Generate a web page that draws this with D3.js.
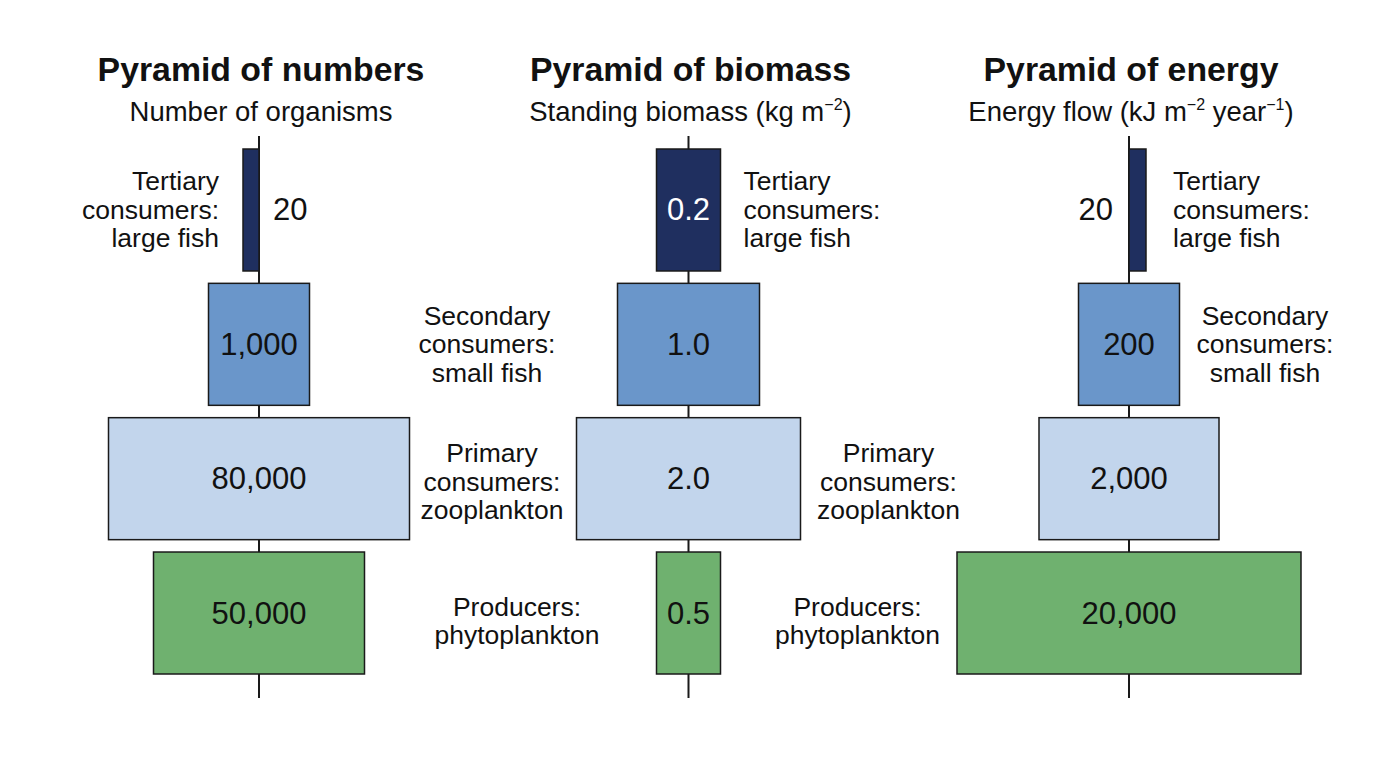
<!DOCTYPE html>
<html><head><meta charset="utf-8">
<script src="https://cdn.jsdelivr.net/npm/d3@7/dist/d3.min.js"></script>
<style>
body{margin:0;background:#fff}
svg{display:block}
text{font-family:"Liberation Sans",Arial,Helvetica,sans-serif;fill:#111}
</style>
</head><body>
<svg id="chart" width="1376" height="768"></svg>
<script>
// ---------- data ----------
const levels = ["Tertiary", "Secondary", "Primary", "Producers"];
const levelLabels = [
  ["Tertiary", "consumers:", "large fish"],
  ["Secondary", "consumers:", "small fish"],
  ["Primary", "consumers:", "zooplankton"],
  ["Producers:", "phytoplankton"]
];
const panelTitles = ["Pyramid of numbers", "Pyramid of biomass", "Pyramid of energy"];
// subtitle segments: [text, isSuperscript]
const panelUnits = [
  [["Number of organisms", false]],
  [["Standing biomass (kg m", false], ["\u22122", true], [")", false]],
  [["Energy flow (kJ m", false], ["\u22122", true], [" year", false], ["\u22121", true], [")", false]]
];
const numbersValues = [20, 1000, 80000, 50000];
const biomassValues = [0.2, 1.0, 2.0, 0.5];
const energyValues = [20, 200, 2000, 20000];

// ---------- layout / style ----------
const W = 1376, H = 768;
const colors = ["#1f2f5f", "#6a96ca", "#c2d5ec", "#6fb16f"];
const panels = [
  { values: numbersValues, fmt: d3.format(","), cx: 259,
    wDomain: [20, 1000, 50000, 80000], wRange: [16, 101, 211, 301],
    align: ["end", "center", "center", "center"],
    valuePos: ["right", "in", "in", "in"],
    labels: [ {lvl:0, dx:-40, anchor:"end"}, {lvl:1, dx:228, anchor:"middle"},
              {lvl:2, dx:233, anchor:"middle"}, {lvl:3, dx:258, anchor:"middle"} ] },
  { values: biomassValues, fmt: d3.format(".1f"), cx: 688.5,
    wDomain: [0.2, 0.5, 1.0, 2.0], wRange: [64, 64, 142, 224],
    align: ["center", "center", "center", "center"],
    valuePos: ["in", "in", "in", "in"],
    labels: [ {lvl:0, dx:55, anchor:"start"}, {lvl:2, dx:200, anchor:"middle"},
              {lvl:3, dx:169, anchor:"middle"} ] },
  { values: energyValues, fmt: d3.format(","), cx: 1129,
    wDomain: [20, 200, 2000, 20000], wRange: [17, 101, 180, 344],
    align: ["start", "center", "center", "center"],
    valuePos: ["left", "in", "in", "in"],
    labels: [ {lvl:0, dx:44, anchor:"start"}, {lvl:1, dx:136, anchor:"middle"} ] }
];
const labelDy = [0, 0, 3, 8];

const svg = d3.select("#chart");
svg.append("rect").attr("width", W).attr("height", H).attr("fill", "#fff");

const y = d3.scaleBand().domain(levels).range([149, 674]).paddingInner(0.092).paddingOuter(0);
const lineH = 28.5;

panels.forEach((p, pi) => {
  const g = svg.append("g");
  const wScale = d3.scaleLinear().domain(p.wDomain).range(p.wRange);

  // title
  g.append("text").attr("x", p.cx + 2).attr("y", 81).attr("text-anchor", "middle")
    .attr("font-size", 33.8).attr("font-weight", "bold").text(panelTitles[pi]);
  // subtitle
  const st = g.append("text").attr("x", p.cx + 2).attr("y", 121).attr("text-anchor", "middle")
    .attr("font-size", 27.5);
  let prevSup = false;
  panelUnits[pi].forEach(([t, sup]) => {
    const ts = st.append("tspan").text(t);
    if (sup && !prevSup) ts.attr("dy", -11);
    else if (!sup && prevSup) ts.attr("dy", 11);
    if (sup) ts.attr("font-size", 16);
    prevSup = sup;
  });

  // center line
  g.append("line").attr("x1", p.cx).attr("x2", p.cx).attr("y1", 136).attr("y2", 698)
    .attr("stroke", "#1a1a1a").attr("stroke-width", 2);

  // bars
  levels.forEach((lvl, i) => {
    const v = p.values[i];
    const w = wScale(v);
    let x0;
    if (p.align[i] === "end") x0 = p.cx - w;
    else if (p.align[i] === "start") x0 = p.cx;
    else x0 = p.cx - w / 2;
    const y0 = y(lvl), bh = y.bandwidth();
    g.append("rect").attr("x", x0).attr("y", y0).attr("width", w).attr("height", bh)
      .attr("fill", colors[i]).attr("stroke", "#1a1a1a").attr("stroke-width", 1.5);

    const vt = g.append("text").attr("y", y0 + bh / 2).attr("dominant-baseline", "central")
      .attr("font-size", 31).text(p.fmt(v));
    if (p.valuePos[i] === "in") {
      vt.attr("x", x0 + w / 2).attr("text-anchor", "middle");
      if (i === 0) vt.style("fill", "#fff");
    } else if (p.valuePos[i] === "right") {
      vt.attr("x", x0 + w + 14).attr("text-anchor", "start");
    } else {
      vt.attr("x", x0 - 16).attr("text-anchor", "end");
    }
  });

  // level labels
  p.labels.forEach(L => {
    const lines = levelLabels[L.lvl];
    const cy = y(levels[L.lvl]) + y.bandwidth() / 2 + labelDy[L.lvl];
    const t = g.append("text").attr("text-anchor", L.anchor).attr("font-size", 26.5);
    lines.forEach((ln, k) => {
      t.append("tspan").attr("x", p.cx + L.dx)
        .attr("y", cy + (k - (lines.length - 1) / 2) * lineH)
        .attr("dominant-baseline", "central").text(ln);
    });
  });
});
</script>
</body></html>
